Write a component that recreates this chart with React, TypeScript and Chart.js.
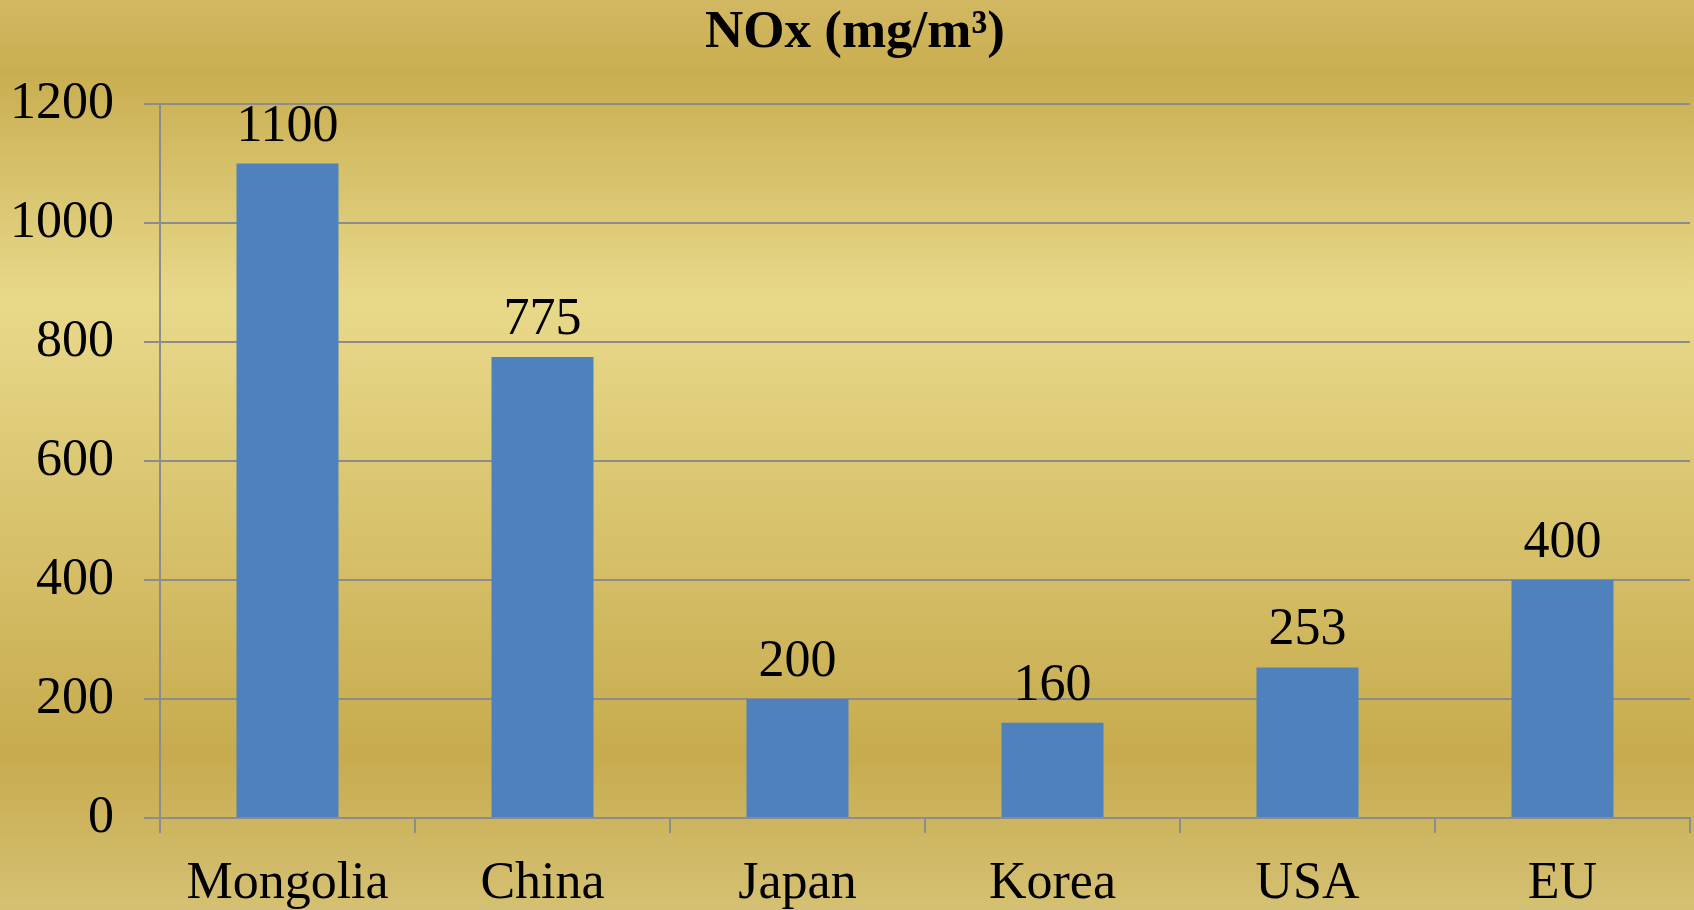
import React, { useEffect, useRef } from "react";
import { Chart, registerables } from "chart.js";

Chart.register(...registerables);

const categories = ["Mongolia", "China", "Japan", "Korea", "USA", "EU"];
const noxValues = [1100, 775, 200, 160, 253, 400];
const yTicks = [0, 200, 400, 600, 800, 1000, 1200];
const titleText = "NOx (mg/m³)";

const FONT = "'Liberation Serif', 'Times New Roman', serif";

const bgPlugin = {
  id: "goldBackground",
  beforeDraw(chart: any) {
    const { ctx, width, height } = chart;
    const g = ctx.createLinearGradient(0, 0, 0, height);
    g.addColorStop(0, "#D2B862");
    g.addColorStop(0.08, "#C9AE51");
    g.addColorStop(0.33, "#E8D98A");
    g.addColorStop(0.83, "#C7AB4E");
    g.addColorStop(1, "#D5C174");
    ctx.save();
    ctx.fillStyle = g;
    ctx.fillRect(0, 0, width, height);
    ctx.restore();
  },
};

const labelPlugin = {
  id: "valueLabels",
  afterDatasetsDraw(chart: any) {
    const { ctx } = chart;
    const meta = chart.getDatasetMeta(0);
    const data = chart.data.datasets[0].data as number[];
    ctx.save();
    ctx.font = `52px ${FONT}`;
    ctx.fillStyle = "#000";
    ctx.textAlign = "center";
    ctx.textBaseline = "alphabetic";
    meta.data.forEach((bar: any, i: number) => {
      ctx.fillText(String(data[i]), bar.x, bar.y - 23);
    });
    ctx.restore();
  },
};

const titlePlugin = {
  id: "customTitle",
  afterDraw(chart: any) {
    const { ctx } = chart;
    ctx.save();
    ctx.font = `bold 53px ${FONT}`;
    ctx.fillStyle = "#000";
    ctx.textAlign = "center";
    ctx.textBaseline = "alphabetic";
    ctx.fillText(titleText, 855, 47);
    ctx.restore();
  },
};

export default function App() {
  const ref = useRef<HTMLCanvasElement | null>(null);

  useEffect(() => {
    document.body.style.margin = "0";
    const canvas = ref.current;
    if (!canvas) return;
    const chart = new Chart(canvas, {
      type: "bar",
      data: {
        labels: categories,
        datasets: [
          {
            data: noxValues,
            backgroundColor: "#4F81BD",
            borderWidth: 0,
            categoryPercentage: 1,
            barPercentage: 0.4,
          },
        ],
      },
      options: {
        responsive: false,
        animation: false,
        events: [],
        layout: { padding: { left: 0, right: 4, top: 104, bottom: 0 } },
        plugins: {
          legend: { display: false },
          tooltip: { enabled: false },
          title: { display: false },
        },
        scales: {
          x: {
            grid: {
              display: true,
              drawOnChartArea: false,
              drawTicks: true,
              tickLength: 15,
              color: "#8C8C8C",
              lineWidth: 2,
              offset: true,
            },
            border: { display: true, color: "#8C8C8C", width: 2 },
            ticks: {
              color: "#000",
              font: { family: FONT, size: 52 },
              padding: 20,
              maxRotation: 0,
              autoSkip: false,
            },
            afterFit(scale: any) {
              scale.height = 92;
            },
          },
          y: {
            min: 0,
            max: 1200,
            afterBuildTicks(scale: any) {
              scale.ticks = yTicks.map((v) => ({ value: v }));
            },
            grid: {
              display: true,
              drawOnChartArea: true,
              drawTicks: true,
              tickLength: 16,
              color: "#8C8C8C",
              lineWidth: 2,
            },
            border: { display: true, color: "#8C8C8C", width: 2 },
            ticks: {
              color: "#000",
              font: { family: FONT, size: 52 },
              padding: 30,
              callback: (v: any) => String(v),
            },
            afterFit(scale: any) {
              scale.width = 160;
            },
          },
        },
      },
      plugins: [bgPlugin, labelPlugin, titlePlugin],
    });
    return () => chart.destroy();
  }, []);

  return (
    <div style={{ width: 1694, height: 910 }}>
      <canvas ref={ref} width={1694} height={910} style={{ display: "block" }} />
    </div>
  );
}
